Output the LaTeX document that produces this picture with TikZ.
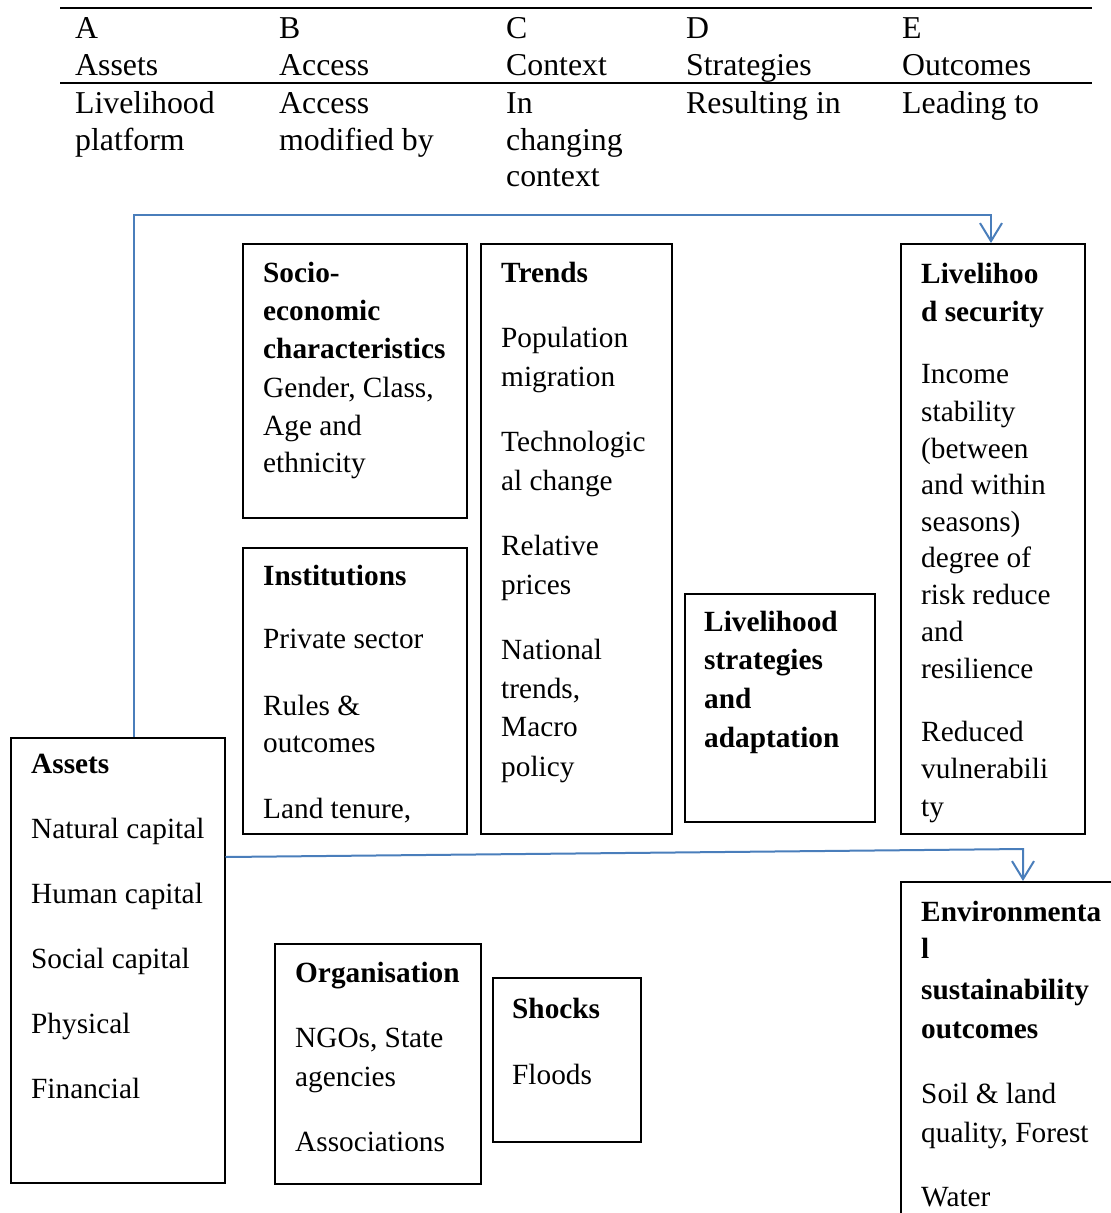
\documentclass[tikz,border=0pt]{standalone}
\usepackage{fontspec}
\setmainfont{Liberation Serif}
\usetikzlibrary{arrows.meta}
\definecolor{connblue}{RGB}{74,126,187}
\newcommand\tl[4]{\node[txt] (#1) at (#2,#3) {#4};}
\newcommand\hl[4]{\node[htxt] (#1) at (#2,#3) {#4};}
\begin{document}
\begin{tikzpicture}[x=1pt,y=-1pt,
  txt/.style={anchor=base west,inner sep=0pt,font=\fontsize{29.3}{37}\selectfont},
  htxt/.style={anchor=base west,inner sep=0pt,font=\fontsize{31.8}{37}\selectfont},
  box/.style={draw=black,line width=1.5pt,anchor=north west,inner sep=0pt},
  conn/.style={draw=connblue,line width=2pt,-{Straight Barb[length=18pt,width=22pt,line width=2pt]}},
  rulel/.style={draw=black}]
\useasboundingbox (0,0) rectangle (1111,1213);
% table rules
\coordinate (r1a) at (60,8); \coordinate (r1b) at (1092,8);
\coordinate (r2a) at (60,83); \coordinate (r2b) at (1092,83);
\draw[rulel,line width=2pt] (r1a) -- (r1b);
\draw[rulel,line width=1.5pt] (r2a) -- (r2b);
% table text
\hl{hA}{75}{38}{A}\hl{hA2}{75}{75}{Assets}
\hl{hB}{279}{38}{B}\hl{hB2}{279}{75}{Access}
\hl{hC}{506}{38}{C}\hl{hC2}{506}{75}{Context}
\hl{hD}{686}{38}{D}\hl{hD2}{686}{75}{Strategies}
\hl{hE}{902}{38}{E}\hl{hE2}{902}{75}{Outcomes}
\hl{rA1}{75}{113}{Livelihood}\hl{rA2}{75}{150}{platform}
\hl{rB1}{279}{113}{Access}\hl{rB2}{279}{150}{modified by}
\hl{rC1}{506}{113}{In}\hl{rC2}{506}{150}{changing}\hl{rC3}{506}{186}{context}
\hl{rD1}{686}{113}{Resulting in}
\hl{rE1}{902}{113}{Leading to}
% boxes
\node[box,minimum width=224pt,minimum height=274pt] (socio) at (242,243) {};
\node[box,minimum width=191pt,minimum height=590pt] (trends) at (480,243) {};
\node[box,minimum width=224pt,minimum height=286pt] (inst) at (242,547) {};
\node[box,minimum width=190pt,minimum height=228pt] (strat) at (684,593) {};
\node[box,minimum width=184pt,minimum height=590pt] (lsec) at (900,243) {};
\node[box,minimum width=214pt,minimum height=445pt] (assets) at (10,737) {};
\node[box,minimum width=206pt,minimum height=240pt] (org) at (274,943) {};
\node[box,minimum width=148pt,minimum height=164pt] (shocks) at (492,977) {};
\node[box,minimum width=260pt,minimum height=400pt] (env) at (900,881) {};
% socio
\tl{s1}{263}{282}{\textbf{Socio-}}
\tl{s2}{263}{320}{\textbf{economic}}
\tl{s3}{263}{358}{\textbf{characteristics}}
\tl{s4}{263}{397}{Gender, Class,}
\tl{s5}{263}{435}{Age and}
\tl{s6}{263}{472}{ethnicity}
% trends
\tl{t1}{501}{282}{\textbf{Trends}}
\tl{t2}{501}{347}{Population}
\tl{t3}{501}{386}{migration}
\tl{t4}{501}{451}{Technologic}
\tl{t5}{501}{490}{al change}
\tl{t6}{501}{555}{Relative}
\tl{t7}{501}{594}{prices}
\tl{t8}{501}{659}{National}
\tl{t9}{501}{698}{trends,}
\tl{t10}{501}{736}{Macro}
\tl{t11}{501}{776}{policy}
% institutions
\tl{i1}{263}{585}{\textbf{Institutions}}
\tl{i2}{263}{648}{Private sector}
\tl{i3}{263}{715}{Rules \&}
\tl{i4}{263}{752}{outcomes}
\tl{i5}{263}{818}{Land tenure,}
% strategies
\tl{g1}{704}{631}{\textbf{Livelihood}}
\tl{g2}{704}{669}{\textbf{strategies}}
\tl{g3}{704}{708}{\textbf{and}}
\tl{g4}{704}{747}{\textbf{adaptation}}
% livelihood security
\tl{l1}{921}{283}{\textbf{Livelihoo}}
\tl{l2}{921}{321}{\textbf{d security}}
\tl{l3}{921}{383}{Income}
\tl{l4}{921}{421}{stability}
\tl{l5}{921}{458}{(between}
\tl{l6}{921}{494}{and within}
\tl{l7}{921}{531}{seasons)}
\tl{l8}{921}{567}{degree of}
\tl{l9}{921}{604}{risk reduce}
\tl{l10}{921}{641}{and}
\tl{l11}{921}{678}{resilience}
\tl{l12}{921}{741}{Reduced}
\tl{l13}{921}{778}{vulnerabili}
\tl{l14}{921}{816}{ty}
% assets
\tl{a1}{31}{773}{\textbf{Assets}}
\tl{a2}{31}{838}{Natural capital}
\tl{a3}{31}{903}{Human capital}
\tl{a4}{31}{968}{Social capital}
\tl{a5}{31}{1033}{Physical}
\tl{a6}{31}{1098}{Financial}
% organisation
\tl{o1}{295}{982}{\textbf{Organisation}}
\tl{o2}{295}{1047}{NGOs, State}
\tl{o3}{295}{1086}{agencies}
\tl{o4}{295}{1151}{Associations}
% shocks
\tl{k1}{512}{1018}{\textbf{Shocks}}
\tl{k2}{512}{1084}{Floods}
% environmental
\tl{e1}{921}{921}{\textbf{Environmenta}}
\tl{e2}{921}{958}{\textbf{l}}
\tl{e3}{921}{999}{\textbf{sustainability}}
\tl{e4}{921}{1038}{\textbf{outcomes}}
\tl{e5}{921}{1103}{Soil \& land}
\tl{e6}{921}{1142}{quality, Forest}
\tl{e7}{921}{1206}{Water}
% connectors
\coordinate (top) at (134,215);
\draw[conn] ([xshift=124pt]assets.north west) -- (top) -| ([xshift=91pt]lsec.north west);
\coordinate (b2) at (1023,849);
\draw[conn] ([yshift=-120pt]assets.north east) -- (b2) -- (b2 |- env.north);
\end{tikzpicture}
\end{document}
